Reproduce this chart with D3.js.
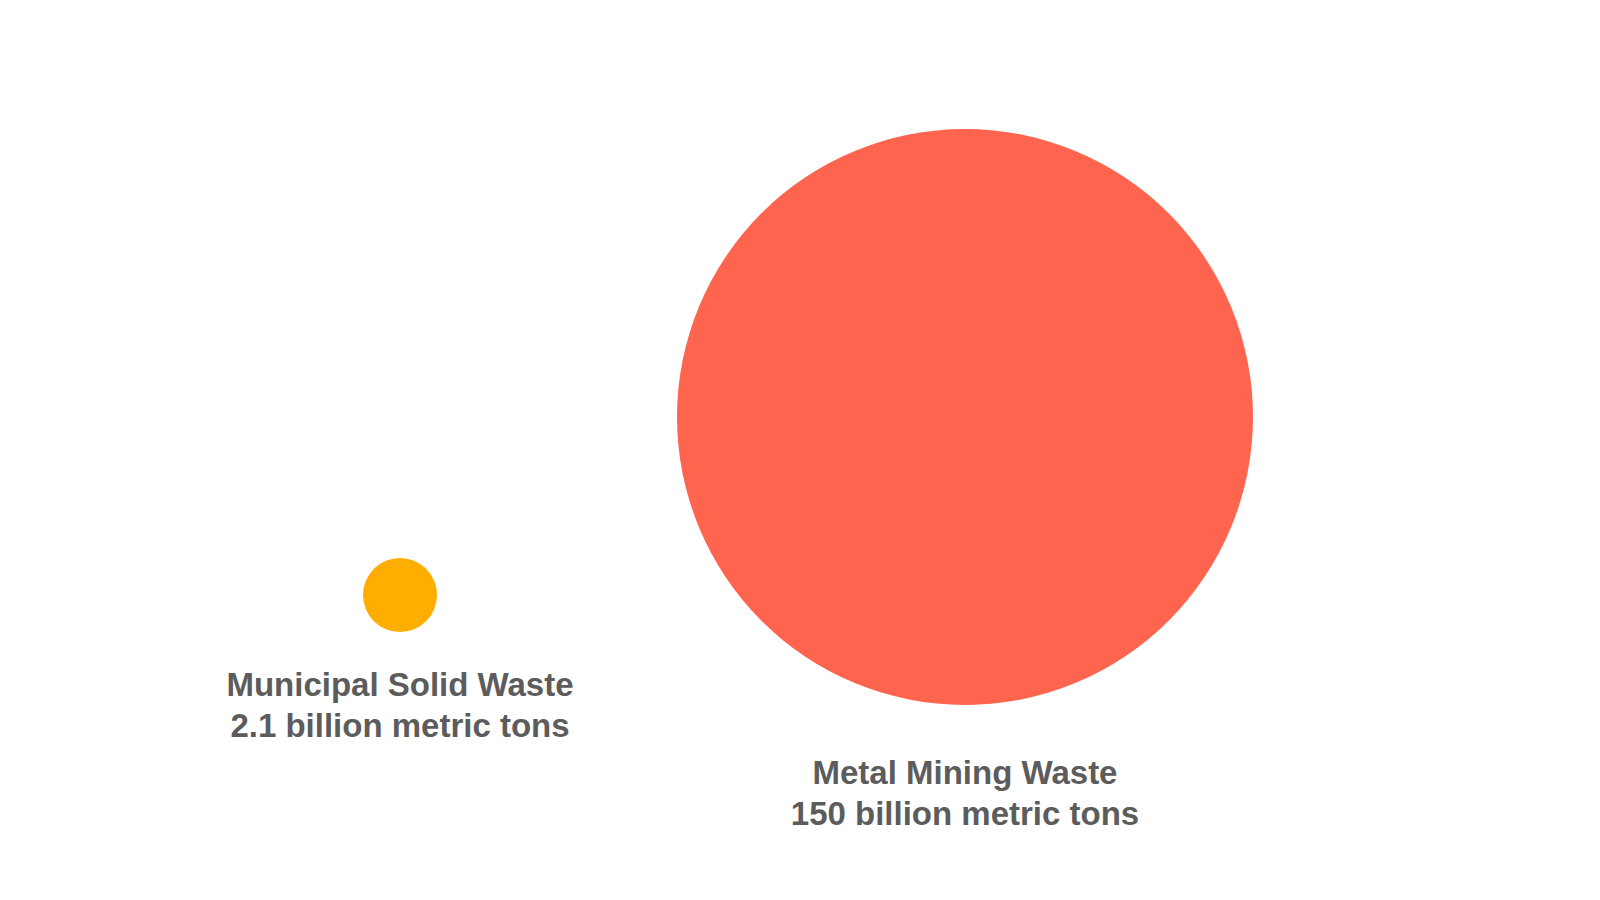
<!DOCTYPE html>
<html>
<head>
<meta charset="utf-8">
<script src="https://cdn.jsdelivr.net/npm/d3@7"></script>
<style>
  html, body { margin: 0; padding: 0; background: #ffffff; }
  svg { display: block; }
</style>
</head>
<body>
<script>
// Data
const categories = ["Municipal Solid Waste", "Metal Mining Waste"];
const values = [2.1, 150];           // billion metric tons
const valueLabels = ["2.1 billion metric tons", "150 billion metric tons"];
const colors = ["#FFAE00", "#FF644E"];

const W = 1600, H = 900;
const svg = d3.select("body").append("svg").attr("width", W).attr("height", H);

const r = d3.scaleSqrt().domain([2.1, 150]).range([37, 288]);
const x = d3.scaleOrdinal().domain(categories).range([400, 965]);
const cy = d3.scaleOrdinal().domain(categories).range([595, 417]);
const labelY = d3.scaleOrdinal().domain(categories).range([696, 784]);

const data = categories.map((c, i) => ({ name: c, value: values[i], label: valueLabels[i], color: colors[i] }));

const g = svg.selectAll("g.item").data(data).enter().append("g").attr("class", "item");

g.append("circle")
  .attr("cx", d => x(d.name))
  .attr("cy", d => cy(d.name))
  .attr("r", d => r(d.value))
  .attr("fill", d => d.color);

const t = g.append("text")
  .attr("text-anchor", "middle")
  .attr("font-family", "Liberation Sans, Arial, Helvetica, sans-serif")
  .attr("font-weight", "bold")
  .attr("font-size", 33)
  .attr("fill", "#5c5c5c");

t.append("tspan").attr("x", d => x(d.name)).attr("y", d => labelY(d.name)).text(d => d.name);
t.append("tspan").attr("x", d => x(d.name)).attr("y", d => labelY(d.name) + 41).text(d => d.label);
</script>
</body>
</html>
